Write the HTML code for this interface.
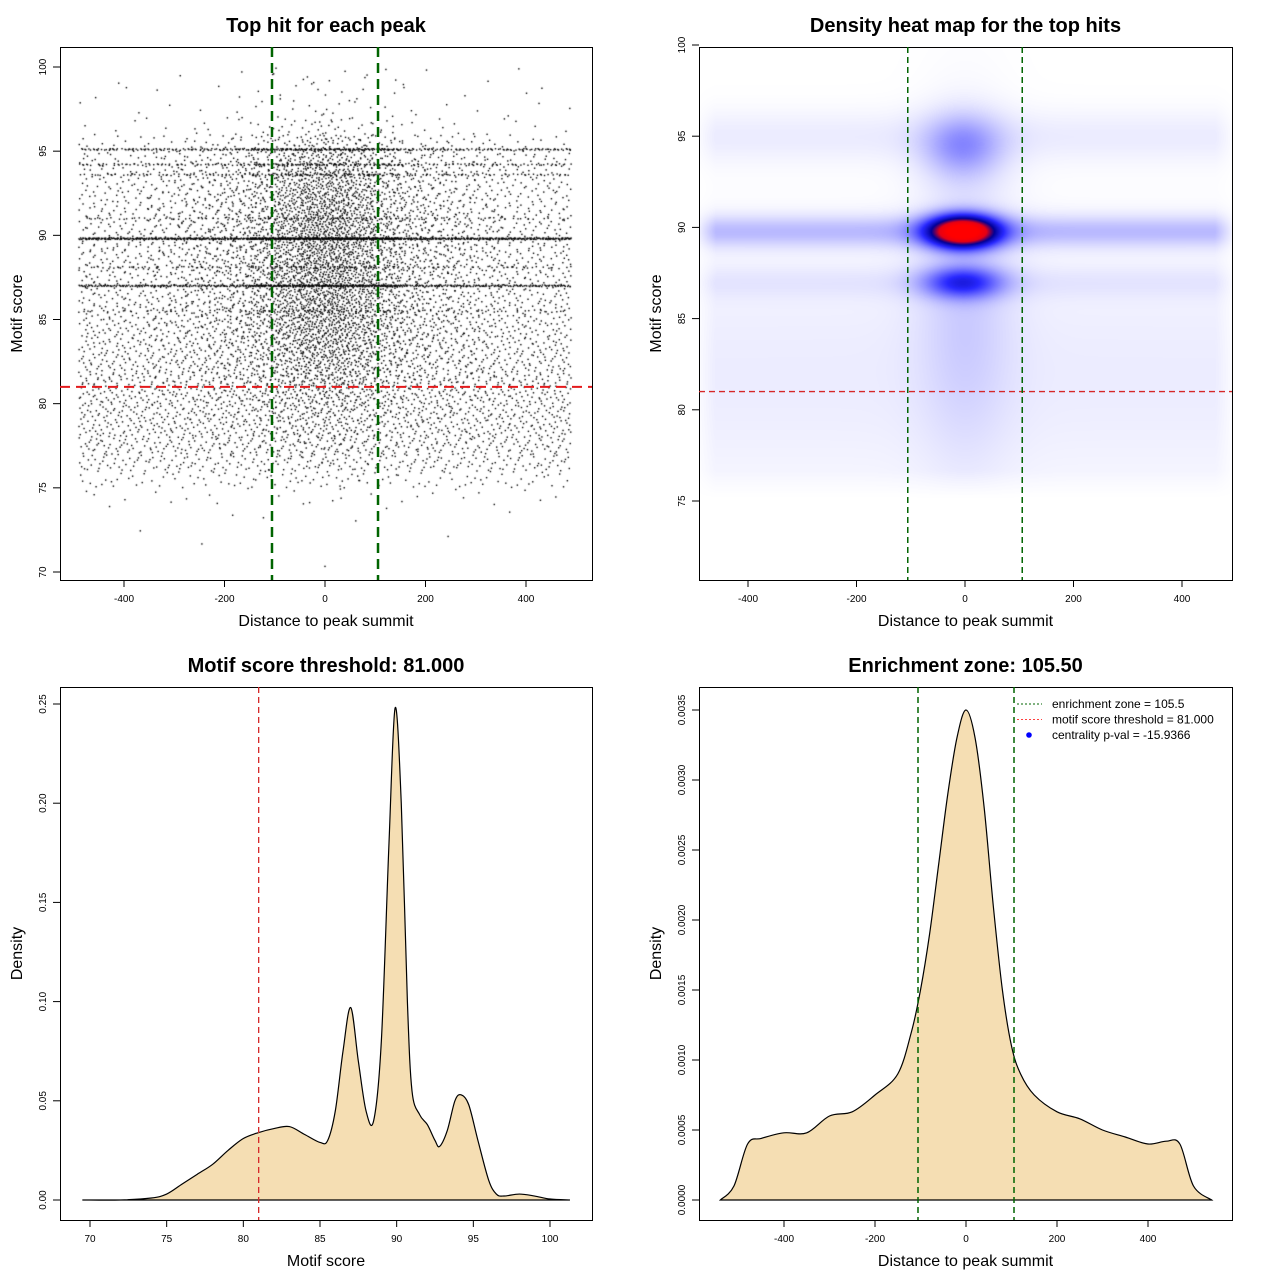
<!DOCTYPE html>
<html><head><meta charset="utf-8"><style>
body{margin:0;background:#fff;}
#root{position:relative;width:1280px;height:1280px;font-family:"Liberation Sans",sans-serif;}
svg text{font-family:"Liberation Sans",sans-serif;}
canvas{position:absolute;}
</style></head><body>
<div id="root">
<canvas id="scat" width="1280" height="1280" style="left:0;top:0"></canvas>
<canvas id="heat" width="1280" height="1280" style="left:0;top:0"></canvas>
<svg id="svg" width="1280" height="1280" style="position:absolute;left:0;top:0"></svg>
</div>
<script>
// ---------- data ----------
const scoreBins=[70,71,72,73,74,75,76,77,78,79,80,81,82,83,84,85,86,87,88,89,90,91,92,93,94,95,96,97,98,99];
const bgCounts=[1,1,2,6,25,110,230,290,320,330,340,330,310,290,280,260,240,240,240,250,220,200,200,180,160,80,25,14,10,10];
const centCounts=[0,0,0,0,3,8,15,30,45,60,90,130,170,210,250,270,270,300,290,300,290,270,250,210,170,100,40,16,12,10];
const distBins=[-500,-450,-400,-350,-300,-250,-200,-150,-100,-50,0,50,100,150,200,250,300,350,400,450];
const centWeights=[0,0,0,1,2,3,5,8,14,20,20,14,8,5,3,2,1,0,0,0];
const levelScores=[95.1,94.2,93.6,89.8,87.0,88.1,91.0,85.5];
const levelCounts=[350,200,160,900,550,120,100,80];
// heatmap gaussian components
const hmX=[0,-5,-5,-5,0,0,0,0];
const hmY=[89.8,89.8,87.0,94.5,86,87.0,95,82];
const hmSX=[5000,45,50,50,60,5000,5000,5000];
const hmSY=[0.6,0.6,0.6,1.2,6,0.6,1,5];
const hmW=[0.12,1.0,0.34,0.17,0.07,0.03,0.035,0.035];
// score density
const scoreX=[69.5,72,74,75,76,77,78,79,80,81,82,83,84,85,85.5,86,86.5,87,87.5,88,88.5,89,89.5,89.9,90.3,90.7,91,91.5,92,92.5,92.8,93.3,93.8,94.2,94.7,95.3,96,96.5,97,98,99,100,101.3];
const scoreD=[0,0,0.001,0.003,0.008,0.013,0.018,0.025,0.031,0.034,0.036,0.037,0.033,0.029,0.030,0.045,0.075,0.097,0.070,0.045,0.040,0.080,0.180,0.248,0.200,0.100,0.055,0.043,0.038,0.030,0.027,0.035,0.050,0.053,0.048,0.030,0.010,0.003,0.002,0.003,0.002,0.0005,0];
// distance density
const distX=[-540,-510,-480,-450,-400,-350,-300,-250,-200,-150,-120,-100,-80,-60,-40,-20,0,20,40,60,80,100,120,150,200,250,300,350,400,440,470,500,540];
const distD=[0,0.0001,0.0004,0.00044,0.00048,0.00048,0.0006,0.00063,0.00075,0.0009,0.0012,0.0015,0.0019,0.0024,0.0029,0.0033,0.0035,0.0033,0.0028,0.0021,0.0015,0.0011,0.0009,0.00075,0.00063,0.00058,0.0005,0.00045,0.0004,0.00042,0.0004,0.0001,0];
const xTicks1=[-400,-200,0,200,400], yTicks1=[70,75,80,85,90,95,100];
const yTicks2=[75,80,85,90,95,100];
const xTicks3=[70,75,80,85,90,95,100], yTicks3=[0,0.05,0.10,0.15,0.20,0.25];
const yTicks3L=["0.00","0.05","0.10","0.15","0.20","0.25"];
const yTicks4=[0,0.0005,0.001,0.0015,0.002,0.0025,0.003,0.0035];
const yTicks4L=["0.0000","0.0005","0.0010","0.0015","0.0020","0.0025","0.0030","0.0035"];
const threshold=81, zone=105.5;

// ---------- scales ----------
const lin=(d0,d1,r0,r1)=>v=>r0+(v-d0)*(r1-r0)/(d1-d0);
const P1={x:lin(0,400,325,526),y:lin(70,100,572,67),b:[60,47,592,580]};
const P2={x:lin(0,400,965,1182),y:lin(75,100,501,45),b:[699,47,1232,580]};
const P3={x:lin(70,100,90,550),y:lin(0,0.25,1200,704),b:[60,687,592,1220]};
const P4={x:lin(0,400,966,1148),y:lin(0,0.0035,1200,710),b:[699,687,1232,1220]};
const NS="http://www.w3.org/2000/svg", svg=document.getElementById('svg');
function el(tag,attrs,parent,text){const e=document.createElementNS(NS,tag);for(const k in attrs)e.setAttribute(k,attrs[k]);if(text!==undefined)e.textContent=text;(parent||svg).appendChild(e);return e;}

function frame(P,name,title,xl,yl,xt,xtl,yt,ytl){
  const g=el('g',{});
  const [x0,y0,x1,y1]=P.b;
  const r=el('rect',{x:x0+.5,y:y0+.5,width:x1-x0,height:y1-y0,fill:'none',stroke:'#000','stroke-width':1},g);
  
  const t=el('text',{x:(x0+x1)/2,y:y0-15,'text-anchor':'middle','font-size':20,'font-weight':'bold'},g,title);
  
  const a=el('text',{x:(x0+x1)/2,y:y1+46,'text-anchor':'middle','font-size':16},g,xl);
  
  const b=el('text',{x:0,y:0,transform:`translate(${x0-38},${(y0+y1)/2}) rotate(-90)`,'text-anchor':'middle','font-size':16},g,yl);
  
  xt.forEach((v,i)=>{const px=P.x(v);
    el('line',{x1:px,x2:px,y1:y1,y2:y1+7,stroke:'#000'},g);
    const tt=el('text',{x:px,y:y1+22,'text-anchor':'middle','font-size':10},g,xtl[i]);
    });
  yt.forEach((v,i)=>{const py=P.y(v);
    el('line',{x1:x0-7,x2:x0,y1:py,y2:py,stroke:'#000'},g);
    const tt=el('text',{x:0,y:0,transform:`translate(${x0-14},${py}) rotate(-90)`,'text-anchor':'middle','font-size':10},g,ytl[i]);
    });
  return g;
}
function vline(P,v,color,w,dash,name){const [x0,y0,x1,y1]=P.b;const px=P.x(v);
  const l=el('line',{x1:px,x2:px,y1:y0,y2:y1,stroke:color,'stroke-width':w,'stroke-dasharray':dash});
  }
function hline(P,v,color,w,dash,name){const [x0,y0,x1,y1]=P.b;const py=P.y(v);
  const l=el('line',{x1:x0,x2:x1,y1:py,y2:py,stroke:color,'stroke-width':w,'stroke-dasharray':dash});
  }

// ---------- panel 1 scatter ----------
function halton(i,b){let f=1,r=0;while(i>0){f/=b;r+=f*(i%b);i=Math.floor(i/b);}return r;}
(function(){
  const c=document.getElementById('scat').getContext('2d');c.fillStyle='#000';
  let k=1;const dot=(d,s)=>{c.fillRect(P1.x(d)-0.7,P1.y(s)-0.7,1.4,1.4);};
  const wsum=centWeights.reduce((a,b)=>a+b,0);
  scoreBins.forEach((s,j)=>{
    for(let n=0;n<bgCounts[j];n++,k++)dot(-490+980*halton(k,2),s+halton(k,3));
    distBins.forEach((d,i)=>{const m=Math.round(centCounts[j]*centWeights[i]/wsum);
      for(let n=0;n<m;n++,k++)dot(d+50*halton(k,2),s+halton(k,3));});
  });
  levelScores.forEach((s,j)=>{for(let n=0;n<levelCounts[j];n++,k++){
    const u=halton(k,2);const d=u<0.75?-490+980*halton(k,5):(-150+300*halton(k,5));dot(d,s+0.1*(halton(k,3)-0.5));}});
})();
frame(P1,'panel-top-hits','Top hit for each peak','Distance to peak summit','Motif score',xTicks1,xTicks1.map(String),yTicks1,yTicks1.map(String));
hline(P1,threshold,'#e41a1c',2,'10,6','threshold-line');
vline(P1,-zone,'#006400',2.5,'10,6','zone-line-left');vline(P1,zone,'#006400',2.5,'10,6','zone-line-right');

// ---------- panel 2 heatmap ----------
(function(){
  const c=document.getElementById('heat').getContext('2d');
  const [x0,y0,x1,y1]=P2.b;const img=c.createImageData(x1-x0,y1-y0);
  const dx=v=>(v-965)*400/217, sy=v=>75+(501-v)*25/456;
  const stops=[[0,255,255,255],[0.4,40,40,255],[0.6,0,0,150],[0.8,230,0,20],[1,255,0,0]];
  for(let py=y0;py<y1;py++)for(let px=x0;px<x1;px++){
    const d=dx(px),s=sy(py);let v=0;
    if(d>-500&&d<500&&s>75.2){
      for(let i=0;i<hmX.length;i++)v+=hmW[i]*Math.exp(-0.5*((d-hmX[i])/hmSX[i])**2-0.5*((s-hmY[i])/hmSY[i])**2);
      const ex=Math.min(1,(500-Math.abs(d))/40),ey=Math.min(1,(s-75.2)/1.5);v*=ex*ey;}
    v=Math.min(1,v);let r=255,g=255,b=255;
    for(let i=0;i<stops.length-1;i++)if(v>=stops[i][0]&&v<=stops[i+1][0]){const t=(v-stops[i][0])/(stops[i+1][0]-stops[i][0]);
      r=stops[i][1]+t*(stops[i+1][1]-stops[i][1]);g=stops[i][2]+t*(stops[i+1][2]-stops[i][2]);b=stops[i][3]+t*(stops[i+1][3]-stops[i][3]);break;}
    const o=((py-y0)*(x1-x0)+(px-x0))*4;img.data[o]=r;img.data[o+1]=g;img.data[o+2]=b;img.data[o+3]=255;}
  c.putImageData(img,x0,y0);
})();
frame(P2,'panel-heatmap','Density heat map for the top hits','Distance to peak summit','Motif score',xTicks1,xTicks1.map(String),yTicks2,yTicks2.map(String));
hline(P2,threshold,'#d62728',1.3,'6,4','threshold-line');
vline(P2,-zone,'#006400',1.5,'6,4','zone-line-left');vline(P2,zone,'#006400',1.5,'6,4','zone-line-right');

// ---------- density curves ----------
function curve(P,xs,ys,name){
  const pts=xs.map((x,i)=>[P.x(x),P.y(ys[i])]);
  let d=`M${pts[0][0]},${pts[0][1]}`;
  for(let i=0;i<pts.length-1;i++){const p0=pts[Math.max(0,i-1)],p1=pts[i],p2=pts[i+1],p3=pts[Math.min(pts.length-1,i+2)];
    d+=` C${p1[0]+(p2[0]-p0[0])/6},${p1[1]+(p2[1]-p0[1])/6} ${p2[0]-(p3[0]-p1[0])/6},${p2[1]-(p3[1]-p1[1])/6} ${p2[0]},${p2[1]}`;}
  const a=el('path',{d:d+'Z',fill:'#f5deb3',stroke:'#000','stroke-width':1.2});
  
}
curve(P3,scoreX,scoreD,'score-density-curve');
frame(P3,'panel-score-density','Motif score threshold: 81.000','Motif score','Density',xTicks3,xTicks3.map(String),yTicks3,yTicks3L);
vline(P3,threshold,'#d62728',1.3,'6,4','threshold-line');

curve(P4,distX,distD,'distance-density-curve');
frame(P4,'panel-enrichment','Enrichment zone: 105.50','Distance to peak summit','Density',xTicks1,xTicks1.map(String),yTicks4,yTicks4L);
vline(P4,-zone,'#006400',1.5,'6,4','zone-line-left');vline(P4,zone,'#006400',1.5,'6,4','zone-line-right');

// legend
const lg=el('g',{});
const lab=['enrichment zone = 105.5','motif score threshold = 81.000','centrality p-val = -15.9366'];
const lc=['#006400','#ff4040','#0000ff'];
lab.forEach((t,i)=>{const y=704+i*15.5;
  if(i<2)el('line',{x1:1017,x2:1042,y1:y,y2:y,stroke:lc[i],'stroke-width':1,'stroke-dasharray':'2,2'},lg);
  else el('circle',{cx:1029,cy:y,r:2.8,fill:'#0000ff'},lg);
  const tx=el('text',{x:1052,y:y+4,'font-size':12},lg,t);});
</script>
</body></html>
